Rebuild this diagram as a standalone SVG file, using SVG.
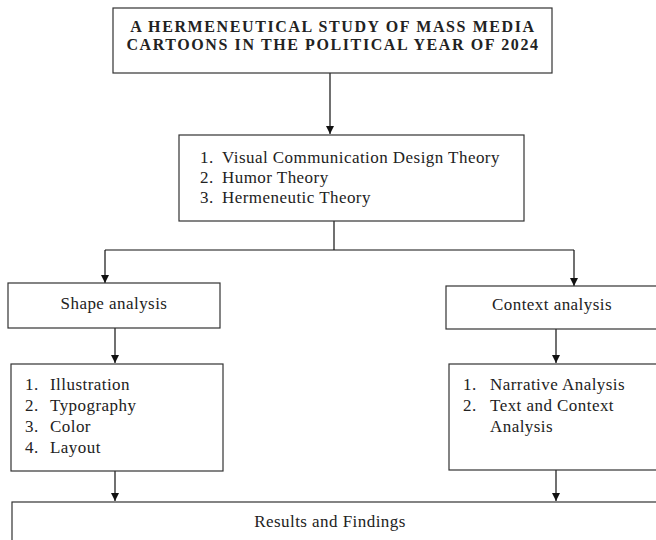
<svg xmlns="http://www.w3.org/2000/svg" width="656" height="540" viewBox="0 0 656 540">
<style>
.box{fill:#fff;stroke:#333;stroke-width:1.2}
.t{font-family:"Liberation Serif","Times New Roman",serif;font-size:17px;letter-spacing:0.45px;fill:#222}
.b{font-weight:bold;font-size:16px;letter-spacing:1.6px}
.c{text-anchor:middle}
.ln{fill:none;stroke:#111;stroke-width:1.2}
</style>
<defs>
<marker id="ah" viewBox="0 0 10 10" refX="10" refY="5" markerWidth="8" markerHeight="8" markerUnits="userSpaceOnUse" orient="auto">
<path d="M0,0 L10,5 L0,10 Z" fill="#111"/>
</marker>
</defs>
<rect width="656" height="540" fill="#fff"/>
<g id="connectors">
<line class="ln" x1="330" y1="73" x2="330" y2="134" marker-end="url(#ah)"/>
<polyline class="ln" points="334,221 334,250"/>
<polyline class="ln" points="105,250 574,250"/>
<line class="ln" x1="105" y1="250" x2="105" y2="283" marker-end="url(#ah)"/>
<line class="ln" x1="574" y1="250" x2="574" y2="286" marker-end="url(#ah)"/>
<line class="ln" x1="115" y1="328" x2="115" y2="363" marker-end="url(#ah)"/>
<line class="ln" x1="556" y1="329" x2="556" y2="363" marker-end="url(#ah)"/>
<line class="ln" x1="115" y1="471" x2="115" y2="501" marker-end="url(#ah)"/>
<line class="ln" x1="556" y1="470" x2="556" y2="501" marker-end="url(#ah)"/>
</g>
<g id="title">
<rect class="box" x="113" y="8" width="439" height="65"/>
<text class="t b c" x="333" y="32">A HERMENEUTICAL STUDY OF MASS MEDIA</text>
<text class="t b c" x="333" y="50">CARTOONS IN THE POLITICAL YEAR OF 2024</text>
</g>
<g id="theories">
<rect class="box" x="179" y="135" width="345" height="86"/>
<text class="t" x="200" y="163">1.</text><text class="t" x="222" y="163">Visual Communication Design Theory</text>
<text class="t" x="200" y="183">2.</text><text class="t" x="222" y="183">Humor Theory</text>
<text class="t" x="200" y="203">3.</text><text class="t" x="222" y="203">Hermeneutic Theory</text>
</g>
<g id="shape">
<rect class="box" x="8" y="283" width="212" height="45"/>
<text class="t c" x="114" y="309">Shape analysis</text>
</g>
<g id="context">
<rect class="box" x="446" y="286" width="212" height="43"/>
<text class="t c" x="552" y="310">Context analysis</text>
</g>
<g id="shape-items">
<rect class="box" x="11" y="364" width="212" height="107"/>
<text class="t" x="25" y="390">1.</text><text class="t" x="50" y="390">Illustration</text>
<text class="t" x="25" y="411">2.</text><text class="t" x="50" y="411">Typography</text>
<text class="t" x="25" y="432">3.</text><text class="t" x="50" y="432">Color</text>
<text class="t" x="25" y="453">4.</text><text class="t" x="50" y="453">Layout</text>
</g>
<g id="context-items">
<rect class="box" x="449" y="364" width="212" height="106"/>
<text class="t" x="463" y="390">1.</text><text class="t" x="490" y="390">Narrative Analysis</text>
<text class="t" x="463" y="411">2.</text><text class="t" x="490" y="411">Text and Context</text>
<text class="t" x="490" y="432">Analysis</text>
</g>
<g id="results">
<rect class="box" x="12" y="502" width="650" height="50"/>
<text class="t c" x="330" y="527">Results and Findings</text>
</g>
</svg>
